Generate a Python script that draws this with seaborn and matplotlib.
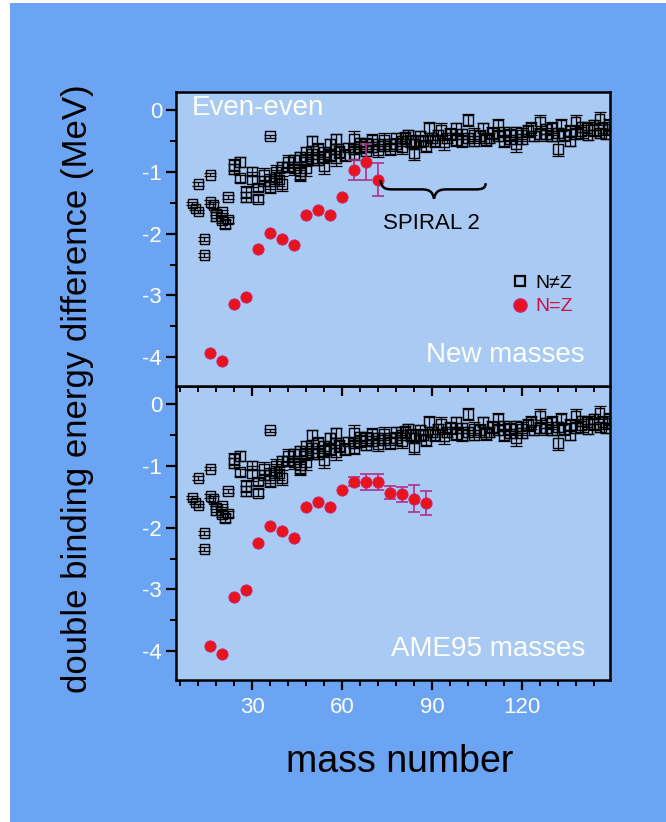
import numpy as np
import pandas as pd
import matplotlib
matplotlib.use("Agg")
import matplotlib.pyplot as plt
from matplotlib.patches import Rectangle, PathPatch
from matplotlib.path import Path
from matplotlib.lines import Line2D
from matplotlib.ticker import MultipleLocator
import seaborn as sns

# ---- data: N=Z even-even nuclei ----
nzeq_mass = [16, 20, 24, 28, 32, 36, 40, 44, 48, 52, 56, 60, 64, 68, 72]
nzeq_new = [-3.93, -4.07, -3.14, -3.02, -2.24, -1.98, -2.08, -2.18,
            -1.69, -1.61, -1.69, -1.40, -0.96, -0.83, -1.12]
nzeq_new_err = [0, 0, 0, 0, 0, 0, 0, 0, 0, 0, 0, 0, 0.16, 0.29, 0.26]

ame_mass = [16, 20, 24, 28, 32, 36, 40, 44, 48, 52, 56, 60, 64, 68, 72, 76, 80, 84, 88]
ame_dbe = [-3.92, -4.05, -3.12, -3.01, -2.24, -1.97, -2.06, -2.16, -1.67, -1.59,
           -1.67, -1.38, -1.25, -1.25, -1.25, -1.43, -1.46, -1.53, -1.60]
ame_err = [0, 0, 0, 0, 0, 0, 0, 0, 0, 0, 0, 0, 0.07, 0.13, 0.13, 0.11, 0.12, 0.22, 0.20]

# ---- data: N!=Z even-even nuclei ----
nz_mass = [10, 11, 12, 12, 14, 14, 16, 16, 17, 18, 18, 20, 20, 21, 22, 22, 24, 24,
           26, 26, 28, 28, 30, 30, 32, 32, 34, 34, 36, 36, 36, 38, 38, 39, 40, 40,
           42, 42, 44, 44, 46, 46, 46, 48, 48, 48, 50, 50, 50, 52, 52, 54, 54, 54,
           56, 56, 58, 58, 58, 59, 61, 62, 64, 64, 64, 66, 66, 68, 68, 70, 70, 72,
           72, 74, 74, 76, 76, 78, 78, 80, 80, 81, 82, 83, 84, 84, 86, 86, 87, 88,
           89, 90, 91, 92, 93, 94, 95, 96, 98, 98, 100, 100, 102, 102, 104, 104, 106,
           107, 108, 109, 110, 112, 112, 114, 114, 116, 116, 118, 118, 120, 120, 122,
           123, 124, 126, 126, 128, 128, 130, 130, 132, 132, 133, 134, 136, 136, 138,
           138, 140, 140, 142, 142, 144, 144, 146, 146, 147, 148, 149, 150]
nz_dbe = [-1.51, -1.59, -1.64, -1.19, -2.08, -2.34, -1.04, -1.48, -1.53, -1.67, -1.72,
          -1.64, -1.78, -1.84, -1.77, -1.40, -0.88, -0.95, -0.83, -1.10, -1.32, -1.40,
          -0.99, -1.12, -1.43, -1.25, -1.04, -1.15, -0.42, -1.15, -1.24, -0.99, -1.08,
          -1.12, -1.19, -0.92,
          -0.83, -0.91, -0.94, -0.80, -0.99, -1.04, -0.75, -0.67, -0.94, -0.80, -0.50,
          -0.78, -0.70, -0.62, -0.80, -0.91, -0.67, -0.75, -0.55, -0.72, -0.46, -0.78,
          -0.62, -0.67, -0.72, -0.60, -0.46, -0.63, -0.70, -0.59, -0.52, -0.55, -0.66,
          -0.59, -0.48, -0.55, -0.65, -0.58, -0.47, -0.54, -0.62, -0.55, -0.44, -0.50,
          -0.60, -0.45, -0.39, -0.50, -0.69, -0.55, -0.50, -0.42, -0.50, -0.58,
          -0.29, -0.45, -0.50, -0.40, -0.31, -0.52, -0.45, -0.38, -0.29, -0.48, -0.50,
          -0.38, -0.15, -0.45, -0.39, -0.50, -0.42, -0.29, -0.48, -0.45, -0.36,
          -0.23, -0.42, -0.50, -0.35, -0.40, -0.47, -0.55, -0.35, -0.39, -0.46, -0.33,
          -0.29, -0.42, -0.18, -0.38, -0.39, -0.30, -0.29, -0.42, -0.62, -0.36, -0.23,
          -0.40, -0.50, -0.33, -0.18, -0.38, -0.34, -0.27, -0.29, -0.40, -0.32, -0.24,
          -0.13, -0.36, -0.29, -0.38, -0.23, -0.30]
nz_err = [0.03, 0.03, 0.03, 0.03, 0.03, 0.03, 0.03, 0.03, 0.05, 0.03, 0.08,
          0.03, 0.05, 0.06, 0.05, 0.03, 0.10, 0.08, 0.08, 0.06, 0.10, 0.08,
          0.08, 0.12, 0.06, 0.06, 0.10, 0.08, 0.03, 0.12, 0.10, 0.10, 0.12,
          0.10, 0.12, 0.08,
          0.10, 0.08, 0.10, 0.08, 0.12, 0.10, 0.08, 0.08, 0.12, 0.10, 0.08,
          0.10, 0.08, 0.10, 0.08, 0.12, 0.08, 0.10, 0.08, 0.10, 0.08, 0.12,
          0.08, 0.10, 0.10, 0.08, 0.12, 0.08, 0.10, 0.10, 0.08, 0.10, 0.08,
          0.08, 0.10, 0.08, 0.10, 0.08, 0.10, 0.08, 0.10, 0.10, 0.08, 0.08,
          0.10, 0.10, 0.08, 0.10, 0.12, 0.08, 0.10, 0.08, 0.08, 0.10,
          0.10, 0.08, 0.10, 0.08, 0.10, 0.12, 0.08, 0.10, 0.08, 0.10, 0.10,
          0.08, 0.10, 0.08, 0.10, 0.08, 0.10, 0.08, 0.10, 0.08, 0.10,
          0.10, 0.08, 0.10, 0.08, 0.10, 0.08, 0.12, 0.08, 0.10, 0.08, 0.10,
          0.10, 0.08, 0.10, 0.08, 0.10, 0.08, 0.10, 0.08, 0.12, 0.08, 0.10,
          0.10, 0.08, 0.10, 0.10, 0.08, 0.10, 0.08, 0.10, 0.08, 0.10, 0.08,
          0.10, 0.08, 0.10, 0.08, 0.10, 0.08]

panel_labels = ["New masses", "AME95 masses"]

fig_blue = "#6ba4f2"
panel_blue = "#a9caf3"
red_fill = "#e8141c"
red_edge = "#d0207a"
err_magenta = "#b0308a"

sns.set_style("ticks")
plt.rcParams["font.family"] = ["Liberation Sans", "DejaVu Sans"]
plt.rcParams["axes.unicode_minus"] = False

fig = plt.figure(figsize=(6.66, 8.22), dpi=100, facecolor="white")
fig.patches.append(Rectangle((10 / 666, 0), 1, 1 - 3 / 822, transform=fig.transFigure,
                             facecolor=fig_blue, edgecolor="none", zorder=-10))

left, right = 176 / 666, 610 / 666
top, bottom = 1 - 92 / 822, 1 - 680 / 822
h = (top - bottom) / 2
ax_top = fig.add_axes([left, bottom + h, right - left, h])
ax_bot = fig.add_axes([left, bottom, right - left, h], sharex=ax_top)
ax_top.set_zorder(3)


def draw_nz(ax):
    ax.errorbar(nz_mass, nz_dbe, yerr=nz_err, fmt="none", ecolor="black",
                elinewidth=0.9, capsize=4, capthick=0.9, zorder=2)
    sns.scatterplot(x=nz_mass, y=nz_dbe, ax=ax, marker="s", s=50,
                    facecolor="none", edgecolor="black", linewidth=1.0, zorder=3)


def draw_eq(ax, mass, vals, errs):
    m = np.array(mass)
    v = np.array(vals)
    e = np.array(errs)
    keep = e > 0
    ax.errorbar(m[keep], v[keep], yerr=e[keep], fmt="none", ecolor=err_magenta,
                elinewidth=1.2, capsize=4, capthick=1.2, zorder=4)
    sns.scatterplot(x=m, y=v, ax=ax, marker="o", s=66, color=red_fill,
                    edgecolor=red_edge, linewidth=0.6, zorder=5)


draw_nz(ax_top)
draw_eq(ax_top, nzeq_mass, nzeq_new, nzeq_new_err)
draw_nz(ax_bot)
draw_eq(ax_bot, ame_mass, ame_dbe, ame_err)

for ax, lab in zip([ax_top, ax_bot], panel_labels):
    ax.set_facecolor(panel_blue)
    ax.set_xlim(4.5, 149.5)
    ax.set_ylim(-4.47, 0.3)
    ax.xaxis.set_major_locator(MultipleLocator(30))
    ax.xaxis.set_minor_locator(MultipleLocator(6))
    ax.yaxis.set_major_locator(MultipleLocator(1))
    ax.yaxis.set_minor_locator(MultipleLocator(0.5))
    ax.tick_params(axis="both", which="major", direction="out", length=7, width=1.6,
                   colors="black", labelcolor="white", labelsize=16, pad=3)
    ax.tick_params(axis="both", which="minor", direction="out", length=4.5, width=1.4,
                   colors="black")
    for sp in ax.spines.values():
        sp.set_visible(True)
        sp.set_linewidth(1.8)
        sp.set_color("black")
    ax.set_xlabel("")
    ax.set_ylabel("")
    ax.text(0.942, 0.105, lab, transform=ax.transAxes, ha="right", va="center",
            color="white", fontsize=20)

ax_top.tick_params(axis="x", labelbottom=False)
ax_bot.tick_params(axis="x", pad=5)

ax_top.text(0.037, 0.945, "Even-even", transform=ax_top.transAxes, ha="left",
            va="center", color="white", fontsize=20)

# SPIRAL 2 brace
verts = [(72.8, -1.13), (73.3, -1.27), (74.5, -1.28), (77.0, -1.28),
         (86.5, -1.28),
         (89.0, -1.28), (90.2, -1.31), (90.7, -1.43),
         (91.2, -1.31), (92.4, -1.28), (95.0, -1.28),
         (104.5, -1.28),
         (107.0, -1.28), (107.8, -1.26), (108.0, -1.18)]
codes = [Path.MOVETO, Path.CURVE4, Path.CURVE4, Path.CURVE4,
         Path.LINETO,
         Path.CURVE4, Path.CURVE4, Path.CURVE4,
         Path.CURVE4, Path.CURVE4, Path.CURVE4,
         Path.LINETO,
         Path.CURVE4, Path.CURVE4, Path.CURVE4]
ax_top.add_patch(PathPatch(Path(verts, codes), facecolor="none", edgecolor="black",
                           linewidth=1.8, zorder=6))
ax_top.text(89.7, -1.84, "SPIRAL 2", ha="center", va="center", color="black",
            fontsize=16)

# legend
handles = [Line2D([], [], marker="s", linestyle="none", markerfacecolor="none",
                  markeredgecolor="black", markeredgewidth=1.6, markersize=7.5),
           Line2D([], [], marker="o", linestyle="none", markerfacecolor=red_fill,
                  markeredgecolor=red_edge, markersize=9.5)]
leg = ax_top.legend(handles, ["N\u2260Z", "N=Z"], loc="upper left",
                    bbox_to_anchor=(0.775, 0.38), frameon=False, fontsize=14,
                    handlelength=0.8, handletextpad=0.4, labelspacing=0.3,
                    borderpad=0, borderaxespad=0)
leg.get_texts()[0].set_color("black")
leg.get_texts()[1].set_color("#cc1046")

fig.text(78 / 666, 1 - 389 / 822, "double binding energy difference (MeV)",
         rotation=90, ha="center", va="center", fontsize=25, color="black")
fig.text(400 / 666, 1 - 762 / 822, "mass number", ha="center", va="center",
         fontsize=27, color="black")

fig.savefig("out.png", dpi=100, facecolor=fig.get_facecolor())
